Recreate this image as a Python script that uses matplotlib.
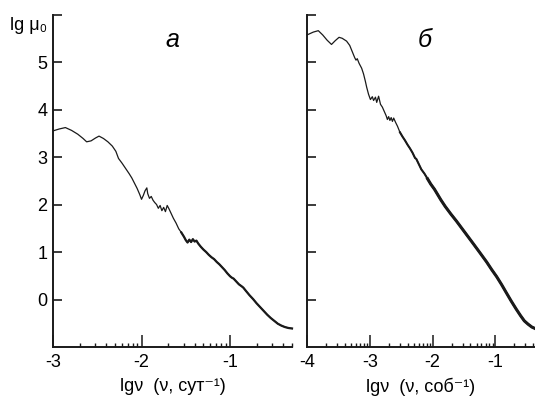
import numpy as np
import matplotlib
matplotlib.use('Agg')
import matplotlib.pyplot as plt
from matplotlib.ticker import FixedLocator, FixedFormatter

plt.rcParams['font.family'] = ['Liberation Sans', 'DejaVu Sans']
plt.rcParams['axes.unicode_minus'] = False

# панель а: lg mu0 vs lg nu (сут^-1)
x_a = [-3.00, -2.93, -2.86, -2.79, -2.72, -2.66, -2.62, -2.57, -2.52, -2.48,
       -2.43, -2.38, -2.33, -2.29, -2.26, -2.22, -2.18, -2.14, -2.11, -2.08,
       -2.05, -2.02, -2.00, -1.98, -1.96, -1.94, -1.93, -1.91, -1.89, -1.87,
       -1.85, -1.83, -1.81, -1.79, -1.77, -1.75, -1.73, -1.71, -1.69, -1.67,
       -1.64, -1.61, -1.58, -1.55, -1.52, -1.50, -1.48, -1.46, -1.44, -1.42,
       -1.40, -1.38, -1.36, -1.33, -1.30, -1.27, -1.24, -1.21, -1.18, -1.15,
       -1.12, -1.09, -1.06, -1.03, -1.00, -0.98, -0.96, -0.93, -0.90, -0.87,
       -0.85, -0.82, -0.78, -0.74, -0.70, -0.66, -0.62, -0.58, -0.54, -0.50,
       -0.46, -0.42, -0.38, -0.34, -0.30]
y_a = [3.56, 3.60, 3.63, 3.57, 3.49, 3.40, 3.33, 3.35, 3.41, 3.45,
       3.40, 3.33, 3.24, 3.13, 2.98, 2.88, 2.77, 2.66, 2.57, 2.46,
       2.35, 2.22, 2.12, 2.20, 2.30, 2.36, 2.24, 2.14, 2.18, 2.10,
       2.05, 2.01, 1.93, 1.99, 1.88, 1.95, 1.86, 1.99, 1.92, 1.84,
       1.72, 1.62, 1.50, 1.42, 1.33, 1.26, 1.21, 1.27, 1.22, 1.28,
       1.23, 1.25, 1.19, 1.12, 1.06, 1.01, 0.95, 0.90, 0.86, 0.80,
       0.75, 0.69, 0.63, 0.56, 0.50, 0.47, 0.45, 0.39, 0.33, 0.29,
       0.26, 0.19, 0.10, 0.02, -0.07, -0.15, -0.23, -0.31, -0.38, -0.44,
       -0.50, -0.54, -0.57, -0.59, -0.60]

# панель б: lg mu0 vs lg nu (соб^-1)
x_b = [-4.00, -3.90, -3.82, -3.75, -3.68, -3.61, -3.55, -3.49, -3.44, -3.37,
       -3.32, -3.28, -3.24, -3.22, -3.20, -3.17, -3.13, -3.10, -3.07, -3.05,
       -3.02, -2.99, -2.96, -2.94, -2.91, -2.89, -2.86, -2.83, -2.80, -2.77,
       -2.74, -2.72, -2.70, -2.68, -2.66, -2.64, -2.62, -2.59, -2.56, -2.52,
       -2.48, -2.44, -2.40, -2.36, -2.32, -2.28, -2.26, -2.22, -2.18, -2.13,
       -2.08, -2.03, -1.97, -1.92, -1.87, -1.80, -1.71, -1.62, -1.53, -1.44,
       -1.35, -1.25, -1.14, -1.06, -0.98, -0.90, -0.83, -0.75, -0.67, -0.60,
       -0.54, -0.48, -0.42, -0.37]
y_b = [5.58, 5.64, 5.67, 5.58, 5.47, 5.38, 5.46, 5.53, 5.51, 5.45,
       5.36, 5.23, 5.10, 5.05, 5.08, 4.98, 4.88, 4.76, 4.60, 4.48,
       4.33, 4.22, 4.28, 4.20, 4.27, 4.16, 4.29, 4.12, 4.06, 3.97,
       3.88, 3.80, 3.86, 3.78, 3.84, 3.76, 3.83, 3.74, 3.66, 3.53,
       3.44, 3.36, 3.27, 3.19, 3.10, 2.99, 2.97, 2.86, 2.75, 2.66,
       2.55, 2.44, 2.33, 2.22, 2.11, 1.97, 1.81, 1.66, 1.50, 1.34,
       1.18, 1.00, 0.80, 0.64, 0.49, 0.32, 0.16, -0.02, -0.19, -0.33,
       -0.44, -0.51, -0.57, -0.60]

y_ticks = [0, 1, 2, 3, 4, 5, 6]
y_ticklabels = ['0', '1', '2', '3', '4', '5', '']
xlabel_a = 'lgν  (ν, сут⁻¹)'
xlabel_b = 'lgν  (ν, соб⁻¹)'

W, H = 535, 399
fig = plt.figure(figsize=(W / 100, H / 100), dpi=100)
ax_a = fig.add_axes([53 / W, 1 - 347 / H, 239 / W, 332 / H])
ax_b = fig.add_axes([307 / W, 1 - 347 / H, 228 / W, 332 / H])

col = '#1a1a1a'


def style(ax, xlim, decades, majors, labels, ylab):
    ax.set_xlim(*xlim)
    ax.set_ylim(-0.99, 6.0)
    for s in ('top', 'right'):
        ax.spines[s].set_visible(False)
    for s in ('left', 'bottom'):
        ax.spines[s].set_linewidth(1.4)
        ax.spines[s].set_color(col)
    minors = [d + np.log10(k) for d in decades for k in range(2, 10)]
    minors = [m for m in minors if m <= xlim[1] + 1e-6]
    ax.xaxis.set_major_locator(FixedLocator(majors))
    ax.xaxis.set_major_formatter(FixedFormatter(labels))
    ax.xaxis.set_minor_locator(FixedLocator(minors))
    ax.yaxis.set_major_locator(FixedLocator(y_ticks))
    ax.yaxis.set_major_formatter(FixedFormatter(y_ticklabels if ylab else [''] * len(y_ticks)))
    ax.tick_params(axis='x', which='major', direction='in', length=8.5, width=1.1,
                   pad=5, labelsize=13, color=col)
    ax.tick_params(axis='x', which='minor', direction='in', length=3.2, width=1.0, color=col)
    ax.tick_params(axis='y', which='major', direction='in', length=6.5, width=1.2,
                   pad=4, labelsize=13, color=col)
    ax.patch.set_visible(False)


style(ax_a, (-3.0, -0.30), [-3, -2, -1], [-3, -2, -1], ['-3', '-2', '-1'], True)
style(ax_b, (-4.0, -0.37), [-4, -3, -2, -1], [-4, -3, -2, -1], ['-4', '-3', '-2', '-1'], False)

xa = np.array(x_a)
ya = np.array(y_a)
xb = np.array(x_b)
yb = np.array(y_b)

# тонкая часть + жирная "шумная" часть
ax_a.plot(xa, ya, color=col, lw=0.9, clip_on=False)
m = xa >= -1.55
ax_a.plot(xa[m], ya[m], color=col, lw=1.6, clip_on=False)

ax_b.plot(xb, yb, color=col, lw=0.9, clip_on=False)
m = xb >= -2.55
ax_b.plot(xb[m], yb[m], color=col, lw=1.5, clip_on=False)
m = xb >= -2.1
ax_b.plot(xb[m], yb[m], color=col, lw=2.2, clip_on=False)

ax_a.set_xlabel(xlabel_a, fontsize=13, labelpad=5)
ax_b.set_xlabel(xlabel_b, fontsize=13, labelpad=5)

ax_a.text(0.498, 0.925, 'а', transform=ax_a.transAxes, fontsize=18,
          style='italic', ha='center', va='center')
ax_b.text(0.518, 0.925, 'б', transform=ax_b.transAxes, fontsize=18,
          style='italic', ha='center', va='center')

fig.text(47 / W, 1 - 26 / H, 'lg μ₀', fontsize=13, ha='right', va='center')

fig.savefig('out.png', dpi=100)
